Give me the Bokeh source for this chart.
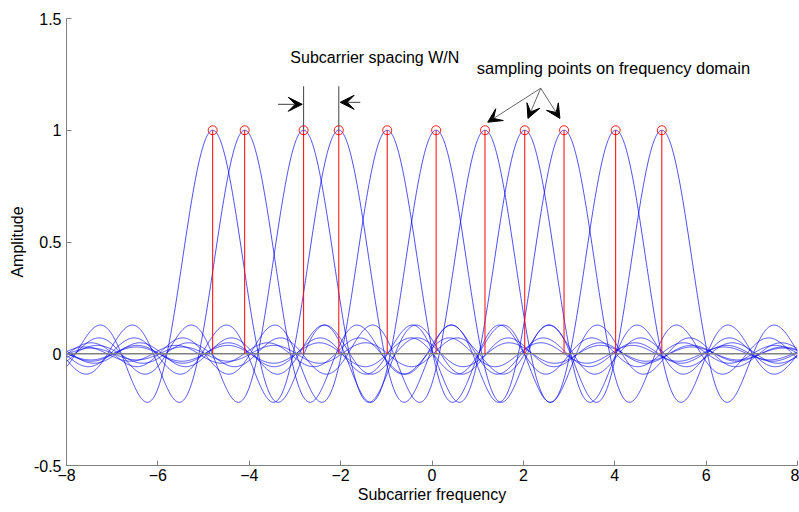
import numpy as np
from bokeh.plotting import figure
from bokeh.models import ColumnDataSource, Arrow, VeeHead, FixedTicker
from bokeh.core.properties import value
from bokeh.embed import file_html
from bokeh.resources import INLINE

# ---- data ----
centers = [-4.80, -4.10, -2.81, -2.04, -0.98, 0.09, 1.16, 2.03, 2.89, 4.02, 5.03]
peak_amplitude = [1, 1, 1, 1, 1, 1, 1, 1, 1, 1, 1]
x_ticks = [-8, -6, -4, -2, 0, 2, 4, 6, 8]
y_ticks = [-0.5, 0, 0.5, 1, 1.5]
y_tick_labels = ["-0.5", "0", "0.5", "1", "1.5"]

# spacing marker lines (two neighbouring subcarriers)
spacing_x = [-2.81, -2.04]
spacing_top = [1.197, 1.197]
# spacing arrows
spacing_arrow_x0 = [-3.37, -1.57]
spacing_arrow_x1 = [-2.84, -2.01]
spacing_arrow_y = [1.116, 1.125]
# sampling arrows
sampling_origin = (2.38, 1.188)
sampling_tip_x = [1.22, 2.10, 2.80]
sampling_tip_y = [1.036, 1.053, 1.053]

FONT = "Liberation Sans"

p = figure(width=799, height=510, output_backend="svg", toolbar_location=None,
           x_range=(-8, 8), y_range=(-0.5, 1.5),
           min_border_left=66, min_border_right=2, min_border_top=18, min_border_bottom=45)
p.outline_line_color = None
p.xgrid.visible = False
p.ygrid.visible = False
p.background_fill_color = "white"
p.border_fill_color = "white"

# sinc subcarrier spectra
xs = np.linspace(-8, 8, 1601)
for c in centers:
    p.line(xs, np.sinc(xs - c), line_color="#0000ff", line_width=0.7)

# baseline
p.line([x_ticks[0], x_ticks[-1]], [0, 0], line_color="#808080", line_width=1.5)

# stems and markers
stem_src = ColumnDataSource(dict(x=centers, y0=[0] * len(centers), y1=peak_amplitude))
p.segment(x0="x", y0="y0", x1="x", y1="y1", source=stem_src, line_color="#ff0000", line_width=1)
p.scatter(x="x", y="y1", source=stem_src, marker="circle", size=9,
          fill_color=None, line_color="#ff0000", line_width=0.9)

# spacing annotation lines
sp_src = ColumnDataSource(dict(x=spacing_x, y0=peak_amplitude[:2], y1=spacing_top))
p.segment(x0="x", y0="y0", x1="x", y1="y1", source=sp_src, line_color="#404040", line_width=1)

for x0, x1, y in zip(spacing_arrow_x0, spacing_arrow_x1, spacing_arrow_y):
    p.add_layout(Arrow(x_start=x0, y_start=y, x_end=x1, y_end=y,
                       line_color="#404040", line_width=1,
                       end=VeeHead(size=14, fill_color="black", line_color="black", line_width=1)))

for tx, ty in zip(sampling_tip_x, sampling_tip_y):
    p.add_layout(Arrow(x_start=sampling_origin[0], y_start=sampling_origin[1], x_end=tx, y_end=ty,
                       line_color="#404040", line_width=0.8,
                       end=VeeHead(size=14, fill_color="black", line_color="black", line_width=1)))

# texts
p.text(x=[-3.10], y=[1.327], text=["Subcarrier spacing W/N"], text_font=value(FONT),
       text_font_size="16px", text_baseline="middle", text_align="left", text_color="black")
p.text(x=[0.98], y=[1.277], text=["sampling points on frequency domain"], text_font=value(FONT),
       text_font_size="16.5px", text_baseline="middle", text_align="left", text_color="black")

# axes
for ax in (p.xaxis[0], p.yaxis[0]):
    ax.axis_line_color = "#808080"
    ax.major_tick_line_color = "#808080"
    ax.major_tick_in = 5
    ax.major_tick_out = 0
    ax.minor_tick_line_color = None
    ax.major_label_text_font = FONT
    ax.major_label_text_font_size = "16px"
    ax.major_label_text_color = "black"
    ax.axis_label_text_font = FONT
    ax.axis_label_text_font_size = "16px"
    ax.axis_label_text_font_style = "normal"
    ax.axis_label_text_color = "black"

p.xaxis.ticker = FixedTicker(ticks=x_ticks)
p.yaxis.ticker = FixedTicker(ticks=y_ticks)
p.yaxis.major_label_overrides = {t: l for t, l in zip(y_ticks, y_tick_labels)}
p.xaxis.axis_label = "Subcarrier frequency"
p.yaxis.axis_label = "Amplitude"
p.xaxis.major_label_standoff = 3
p.xaxis.axis_label_standoff = 2
p.yaxis.major_label_standoff = 5
p.yaxis.axis_label_standoff = 5

open("out.html", "w").write(file_html(p, INLINE))
